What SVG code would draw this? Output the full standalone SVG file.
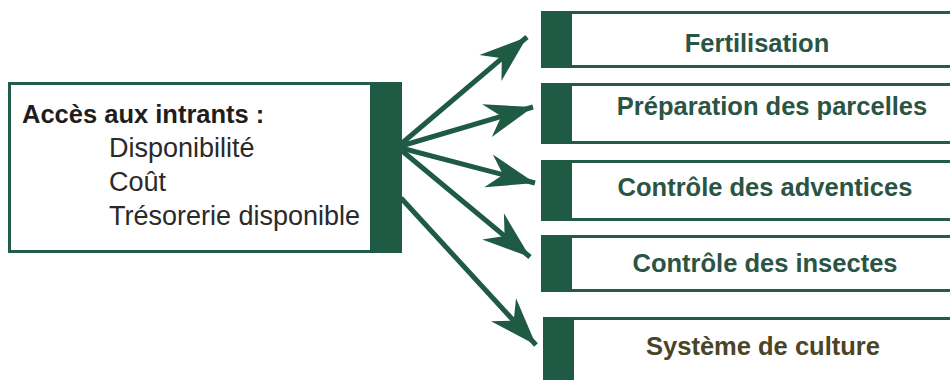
<svg xmlns="http://www.w3.org/2000/svg" width="950" height="380" viewBox="0 0 950 380">
  <defs>
    <style>
      .frame { fill: #ffffff; stroke: #245c48; stroke-width: 3; }
      .bar { fill: #1f5a45; }
      .lbl { font-family: "Liberation Sans", Arial, sans-serif; font-weight: bold; font-size: 25.5px; fill: #2a5444; text-anchor: middle; }
      .lbl.olive { fill: #4a4526; }
      .head { font-family: "Liberation Sans", Arial, sans-serif; font-weight: bold; font-size: 25.5px; fill: #1e1e1e; }
      .item { font-family: "Liberation Sans", Arial, sans-serif; font-size: 27px; fill: #2a2a2a; }
      .arrow { stroke: #1f5a45; stroke-width: 5; fill: none; marker-end: url(#ah); }
    </style>
    <marker id="ah" markerUnits="userSpaceOnUse" viewBox="-50 -20 52 40" refX="0" refY="0" markerWidth="52" markerHeight="40" orient="auto">
      <path d="M0,0 L-48,-17 L-33,0 L-48,17 Z" fill="#1f5a45"/>
    </marker>
  </defs>

  <g id="source">
    <rect class="frame" x="9.5" y="83.5" width="380" height="168"/>
    <rect class="bar" x="370" y="82" width="32" height="171"/>
    <text class="head" x="22" y="123">Accès aux intrants :</text>
    <text class="item" x="109" y="157">Disponibilité</text>
    <text class="item" x="109" y="191">Coût</text>
    <text class="item" x="109" y="225">Trésorerie disponible</text>
  </g>

  <g id="connectors">
    <line class="arrow" x1="401" y1="144" x2="527" y2="37"/>
    <line class="arrow" x1="401" y1="146" x2="533" y2="107"/>
    <line class="arrow" x1="401" y1="148" x2="535" y2="183"/>
    <line class="arrow" x1="401" y1="150" x2="530" y2="257"/>
    <line class="arrow" x1="401" y1="198" x2="536" y2="345"/>
  </g>

  <g id="fertilisation">
    <rect class="frame" x="542.5" y="12.5" width="420" height="54"/>
    <rect class="bar" x="541" y="11" width="31" height="57"/>
    <text class="lbl" x="757" y="52">Fertilisation</text>
  </g>

  <g id="preparation">
    <rect class="frame" x="542.5" y="84.5" width="420" height="58"/>
    <rect class="bar" x="541" y="83" width="31" height="61"/>
    <text class="lbl" x="772" y="115">Préparation des parcelles</text>
  </g>

  <g id="adventices">
    <rect class="frame" x="542.5" y="161.5" width="420" height="58"/>
    <rect class="bar" x="541" y="160" width="31" height="61"/>
    <text class="lbl" x="765" y="196">Contrôle des adventices</text>
  </g>

  <g id="insectes">
    <rect class="frame" x="542.5" y="236.5" width="420" height="54"/>
    <rect class="bar" x="541" y="235" width="31" height="57"/>
    <text class="lbl" x="765" y="272">Contrôle des insectes</text>
  </g>

  <g id="systeme">
    <rect class="frame" x="544.5" y="318.5" width="420" height="70"/>
    <rect class="bar" x="543" y="317" width="31" height="70"/>
    <text class="lbl olive" x="763" y="355">Système de culture</text>
  </g>
</svg>
